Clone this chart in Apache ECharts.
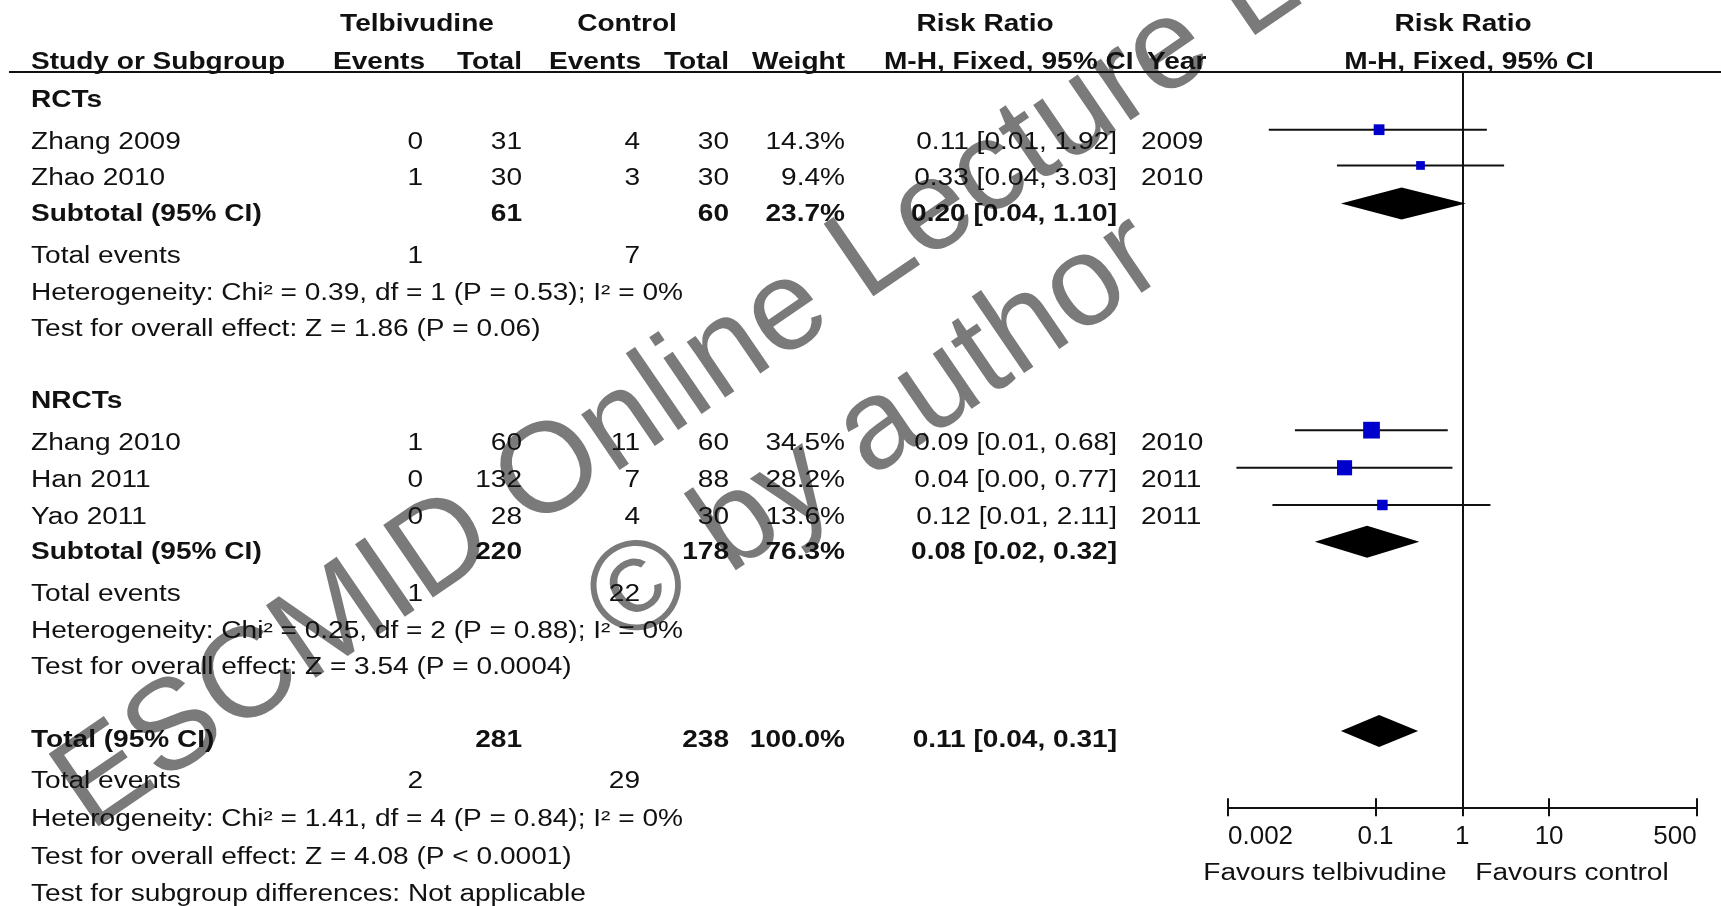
<!DOCTYPE html>
<html>
<head>
<meta charset="utf-8">
<title>Telbivudine vs control - risk ratio forest plot</title>
<script src="https://cdn.jsdelivr.net/npm/echarts@6/dist/echarts.min.js"></script>
<style>
    html, body { margin: 0; padding: 0; background: #fff; }
    #forestChart { width: 1721px; height: 906px; }
</style>
</head>
<body>
<div id="forestChart"></div>
<script>
// ---- values ----
const studies = ['Zhang 2009', 'Zhao 2010', 'Zhang 2010', 'Han 2011', 'Yao 2011'];
const telbEvents = [0, 1, 1, 0, 0];
const telbTotal = [31, 30, 60, 132, 28];
const ctrlEvents = [4, 3, 11, 7, 4];
const ctrlTotal = [30, 30, 60, 88, 30];
const weights = [14.3, 9.4, 34.5, 28.2, 13.6];
const studyRR = [0.11, 0.33, 0.09, 0.044, 0.12];
const studyLow = [0.0059, 0.036, 0.0118, 0.0025, 0.0065];
const studyHigh = [1.92, 3.03, 0.68, 0.77, 2.11];
const years = [2009, 2010, 2010, 2011, 2011];

const groups = ['RCTs', 'NRCTs'];
const groupTelbTotal = [61, 220];
const groupCtrlTotal = [60, 178];
const groupTelbEvents = [1, 1];
const groupCtrlEvents = [7, 22];
const groupWeight = [23.7, 76.3];
const groupRR = [0.20, 0.08];
const groupLow = [0.04, 0.02];
const groupHigh = [1.10, 0.32];
const groupChi = ['0.39', '0.25'];
const groupDf = [1, 2];
const groupHetP = ['P = 0.53', 'P = 0.88'];
const groupI2 = [0, 0];
const groupZ = ['1.86', '3.54'];
const groupZP = ['P = 0.06', 'P = 0.0004'];

const totalCounts = [281, 238];        // telbivudine, control
const totalEvents = [2, 29];
const totalWeight = 100.0;
const totalEffect = [0.11, 0.04, 0.31]; // RR, low, high
const totalChi = '1.41', totalDf = 4, totalHetP = 'P = 0.84', totalI2 = 0;
const totalZ = '4.08', totalZP = 'P < 0.0001';

const tickValues = [0.002, 0.1, 1, 10, 500];
const tickLabels = ['0.002', '0.1', '1', '10', '500'];

// ---- layout ----
const FONT = '"Liberation Sans", Arial, sans-serif';
const FS = 23;
const SX = 1.22;          // the source text is stretched sideways
const INK = '#111';
const COL = { study: 31, teEv: 423, teTot: 522, ctEv: 640, ctTot: 729, weight: 845, rr: 1117, year: 1141 };

// row positions in row units (one unit = one text line)
const layoutRows = [
    { type: 'head1', r: -1.98 },
    { type: 'head2', r: -0.97 },
    { type: 'group', g: 0, r: 0.06 },
    { type: 'study', i: 0, r: 1.18 },
    { type: 'study', i: 1, r: 2.14 },
    { type: 'subtotal', g: 0, r: 3.11 },
    { type: 'events', g: 0, r: 4.24 },
    { type: 'het', g: 0, r: 5.24 },
    { type: 'test', g: 0, r: 6.21 },
    { type: 'group', g: 1, r: 8.14 },
    { type: 'study', i: 2, r: 9.25 },
    { type: 'study', i: 3, r: 10.26 },
    { type: 'study', i: 4, r: 11.26 },
    { type: 'subtotal', g: 1, r: 12.2 },
    { type: 'events', g: 1, r: 13.33 },
    { type: 'het', g: 1, r: 14.32 },
    { type: 'test', g: 1, r: 15.29 },
    { type: 'total', r: 17.24 },
    { type: 'tevents', r: 18.34 },
    { type: 'thet', r: 19.37 },
    { type: 'caption', r: 20.82 },
    { type: 'ttest', r: 20.38 },
    { type: 'tsub', r: 21.38 }
];

function f2(v) { return v.toFixed(2); }
function ciText(rr, lo, hi) { return f2(rr) + ' [' + f2(lo) + ', ' + f2(hi) + ']'; }

function cell(text, x, y, align, bold) {
    return {
        type: 'text',
        x: x, y: y, scaleX: SX,
        style: {
            text: String(text),
            x: 0, y: 0,
            fill: INK,
            fontFamily: FONT,
            fontSize: FS,
            fontWeight: bold ? 'bold' : 'normal',
            align: align,
            verticalAlign: 'middle'
        }
    };
}

function renderTable(params, api) {
    let row = layoutRows[params.dataIndex];
    let y = api.coord([0, row.r])[1];
    let kids = [];
    let add = function (text, x, align, bold) { kids.push(cell(text, x, y, align, bold)); };
    let g = row.g, i = row.i;
    switch (row.type) {
        case 'head1':
            add('Telbivudine', 417, 'center', true);
            add('Control', 627, 'center', true);
            add('Risk Ratio', 985, 'center', true);
            add('Risk Ratio', 1463, 'center', true);
            break;
        case 'head2':
            add('Study or Subgroup', COL.study, 'left', true);
            add('Events', COL.teEv + 2, 'right', true);
            add('Total', COL.teTot, 'right', true);
            add('Events', COL.ctEv + 1, 'right', true);
            add('Total', COL.ctTot, 'right', true);
            add('Weight', COL.weight, 'right', true);
            add('M-H, Fixed, 95% CI', 884, 'left', true);
            add('Year', 1147, 'left', true);
            add('M-H, Fixed, 95% CI', 1469, 'center', true);
            break;
        case 'group':
            add(groups[g], COL.study, 'left', true);
            break;
        case 'study':
            add(studies[i], COL.study, 'left', false);
            add(telbEvents[i], COL.teEv, 'right', false);
            add(telbTotal[i], COL.teTot, 'right', false);
            add(ctrlEvents[i], COL.ctEv, 'right', false);
            add(ctrlTotal[i], COL.ctTot, 'right', false);
            add(weights[i].toFixed(1) + '%', COL.weight, 'right', false);
            add(ciText(studyRR[i], studyLow[i], studyHigh[i]), COL.rr, 'right', false);
            add(years[i], COL.year, 'left', false);
            break;
        case 'subtotal':
            add('Subtotal (95% CI)', COL.study, 'left', true);
            add(groupTelbTotal[g], COL.teTot, 'right', true);
            add(groupCtrlTotal[g], COL.ctTot, 'right', true);
            add(groupWeight[g].toFixed(1) + '%', COL.weight, 'right', true);
            add(ciText(groupRR[g], groupLow[g], groupHigh[g]), COL.rr, 'right', true);
            break;
        case 'events':
            add('Total events', COL.study, 'left', false);
            add(groupTelbEvents[g], COL.teEv, 'right', false);
            add(groupCtrlEvents[g], COL.ctEv, 'right', false);
            break;
        case 'het':
            add('Heterogeneity: Chi\u00b2 = ' + groupChi[g] + ', df = ' + groupDf[g] + ' (' + groupHetP[g] + '); I\u00b2 = ' + groupI2[g] + '%', COL.study, 'left', false);
            break;
        case 'test':
            add('Test for overall effect: Z = ' + groupZ[g] + ' (' + groupZP[g] + ')', COL.study, 'left', false);
            break;
        case 'total':
            add('Total (95% CI)', COL.study, 'left', true);
            add(totalCounts[0], COL.teTot, 'right', true);
            add(totalCounts[1], COL.ctTot, 'right', true);
            add(totalWeight.toFixed(1) + '%', COL.weight, 'right', true);
            add(ciText(totalEffect[0], totalEffect[1], totalEffect[2]), COL.rr, 'right', true);
            break;
        case 'tevents':
            add('Total events', COL.study, 'left', false);
            add(totalEvents[0], COL.teEv, 'right', false);
            add(totalEvents[1], COL.ctEv, 'right', false);
            break;
        case 'thet':
            add('Heterogeneity: Chi\u00b2 = ' + totalChi + ', df = ' + totalDf + ' (' + totalHetP + '); I\u00b2 = ' + totalI2 + '%', COL.study, 'left', false);
            break;
        case 'ttest':
            add('Test for overall effect: Z = ' + totalZ + ' (' + totalZP + ')', COL.study, 'left', false);
            break;
        case 'tsub':
            add('Test for subgroup differences: Not applicable', COL.study, 'left', false);
            break;
        case 'caption':
            add('Favours telbivudine', 1325, 'center', false);
            add('Favours control', 1572, 'center', false);
            break;
    }
    return { type: 'group', children: kids };
}

// study rows: CI whisker + weighted square
const studyRowPos = layoutRows.filter(function (d) { return d.type === 'study'; });
const studyData = studies.map(function (s, k) {
    return [Math.log10(studyLow[k]), Math.log10(studyHigh[k]), Math.log10(studyRR[k]), studyRowPos[k].r - 0.35, weights[k]];
});

function renderStudy(params, api) {
    let y = api.value(3);
    let a = api.coord([api.value(0), y]);
    let b = api.coord([api.value(1), y]);
    let c = api.coord([api.value(2), y]);
    let side = 2.85 * Math.sqrt(api.value(4));
    return {
        type: 'group',
        children: [
            { type: 'line', shape: { x1: a[0], y1: a[1], x2: b[0], y2: b[1] }, style: { stroke: INK, lineWidth: 2 } },
            { type: 'rect', shape: { x: c[0] - side / 2, y: c[1] - side / 2, width: side, height: side }, style: { fill: '#0000cc' } }
        ]
    };
}

// pooled rows: diamonds
const subRowPos = layoutRows.filter(function (d) { return d.type === 'subtotal'; });
const totalRowPos = layoutRows.filter(function (d) { return d.type === 'total'; })[0];
const diamondData = groups.map(function (gname, k) {
    return [Math.log10(groupLow[k]), Math.log10(groupHigh[k]), Math.log10(groupRR[k]), subRowPos[k].r - 0.3];
}).concat([[Math.log10(totalEffect[1]), Math.log10(totalEffect[2]), Math.log10(totalEffect[0]), totalRowPos.r - 0.26]]);

function renderDiamond(params, api) {
    let y = api.value(3);
    let a = api.coord([api.value(0), y]);
    let b = api.coord([api.value(1), y]);
    let c = api.coord([api.value(2), y]);
    let h = 16;
    return {
        type: 'polygon',
        shape: { points: [[a[0], a[1]], [c[0], c[1] - h], [b[0], b[1]], [c[0], c[1] + h]] },
        style: { fill: '#000' }
    };
}

const logMin = Math.log10(tickValues[0]);
const logMax = Math.log10(tickValues[tickValues.length - 1]);
const tickLogs = tickValues.map(function (v) { return Math.log10(v); });

function tickFormatter(v) {
    for (let k = 0; k < tickLogs.length; k++) {
        if (Math.abs(tickLogs[k] - v) < 1e-6) return tickLabels[k];
    }
    return '';
}

let myChart = echarts.init(document.getElementById('forestChart'));

let option = {
    backgroundColor: '#fff',
    animation: false,
    grid: { left: 1228, right: 24.4, top: 72, bottom: 98.7 },
    xAxis: [{
        type: 'value',
        position: 'bottom',
        min: logMin,
        max: logMax,
        splitLine: { show: false },
        axisLine: { show: true, onZero: false, lineStyle: { color: INK, width: 2 } },
        axisTick: { show: true, customValues: tickLogs, length: 9, lineStyle: { color: INK, width: 2 } },
        axisLabel: {
            customValues: tickLogs,
            formatter: tickFormatter,
            alignMinLabel: 'left',
            alignMaxLabel: 'right',
            margin: 17,
            color: INK,
            fontFamily: FONT,
            fontSize: 26
        }
    }, {
        type: 'value',
        position: 'bottom',
        min: logMin,
        max: logMax,
        splitLine: { show: false },
        axisLine: { show: false, onZero: false },
        axisTick: { show: true, inside: true, customValues: tickLogs, length: 9, lineStyle: { color: INK, width: 2 } },
        axisLabel: { show: false, customValues: tickLogs }
    }],
    yAxis: {
        type: 'value',
        inverse: true,
        min: -0.72,
        max: 19.03,
        show: false
    },
    graphic: {
        elements: [
            // watermark of the source slide
            {
                type: 'text', x: 106, y: 856, rotation: 0.6, z: 0,
                style: { text: 'ESCMID Online Lecture Library', fill: '#7a7a7a', fontFamily: FONT, fontSize: 128, align: 'left', verticalAlign: 'bottom' }
            },
            {
                type: 'text', x: 638, y: 672, rotation: 0.6, z: 0,
                style: { text: '\u00a9 by author', fill: '#7a7a7a', fontFamily: FONT, fontSize: 128, align: 'left', verticalAlign: 'bottom' }
            },
            // header rule
            {
                type: 'line', z: 50,
                shape: { x1: 9, y1: 72, x2: 1721, y2: 72 },
                style: { stroke: INK, lineWidth: 2 }
            }
        ]
    },
    series: [{
        name: 'table',
        type: 'custom',
        z: 5,
        silent: true,
        clip: false,
        renderItem: renderTable,
        encode: { x: 0, y: 1 },
        data: layoutRows.map(function (d) { return [0, d.r]; })
    }, {
        name: 'studies',
        type: 'custom',
        z: 6,
        clip: false,
        renderItem: renderStudy,
        encode: { x: [0, 1, 2], y: 3 },
        data: studyData
    }, {
        name: 'pooled',
        type: 'custom',
        z: 6,
        clip: false,
        renderItem: renderDiamond,
        encode: { x: [0, 1, 2], y: 3 },
        data: diamondData
    }, {
        name: 'no effect',
        type: 'line',
        data: [],
        markLine: {
            silent: true,
            symbol: ['none', 'none'],
            label: { show: false },
            lineStyle: { color: INK, width: 2, type: 'solid' },
            data: [{ xAxis: 0 }]
        }
    }]
};

myChart.setOption(option);
</script>
</body>
</html>
